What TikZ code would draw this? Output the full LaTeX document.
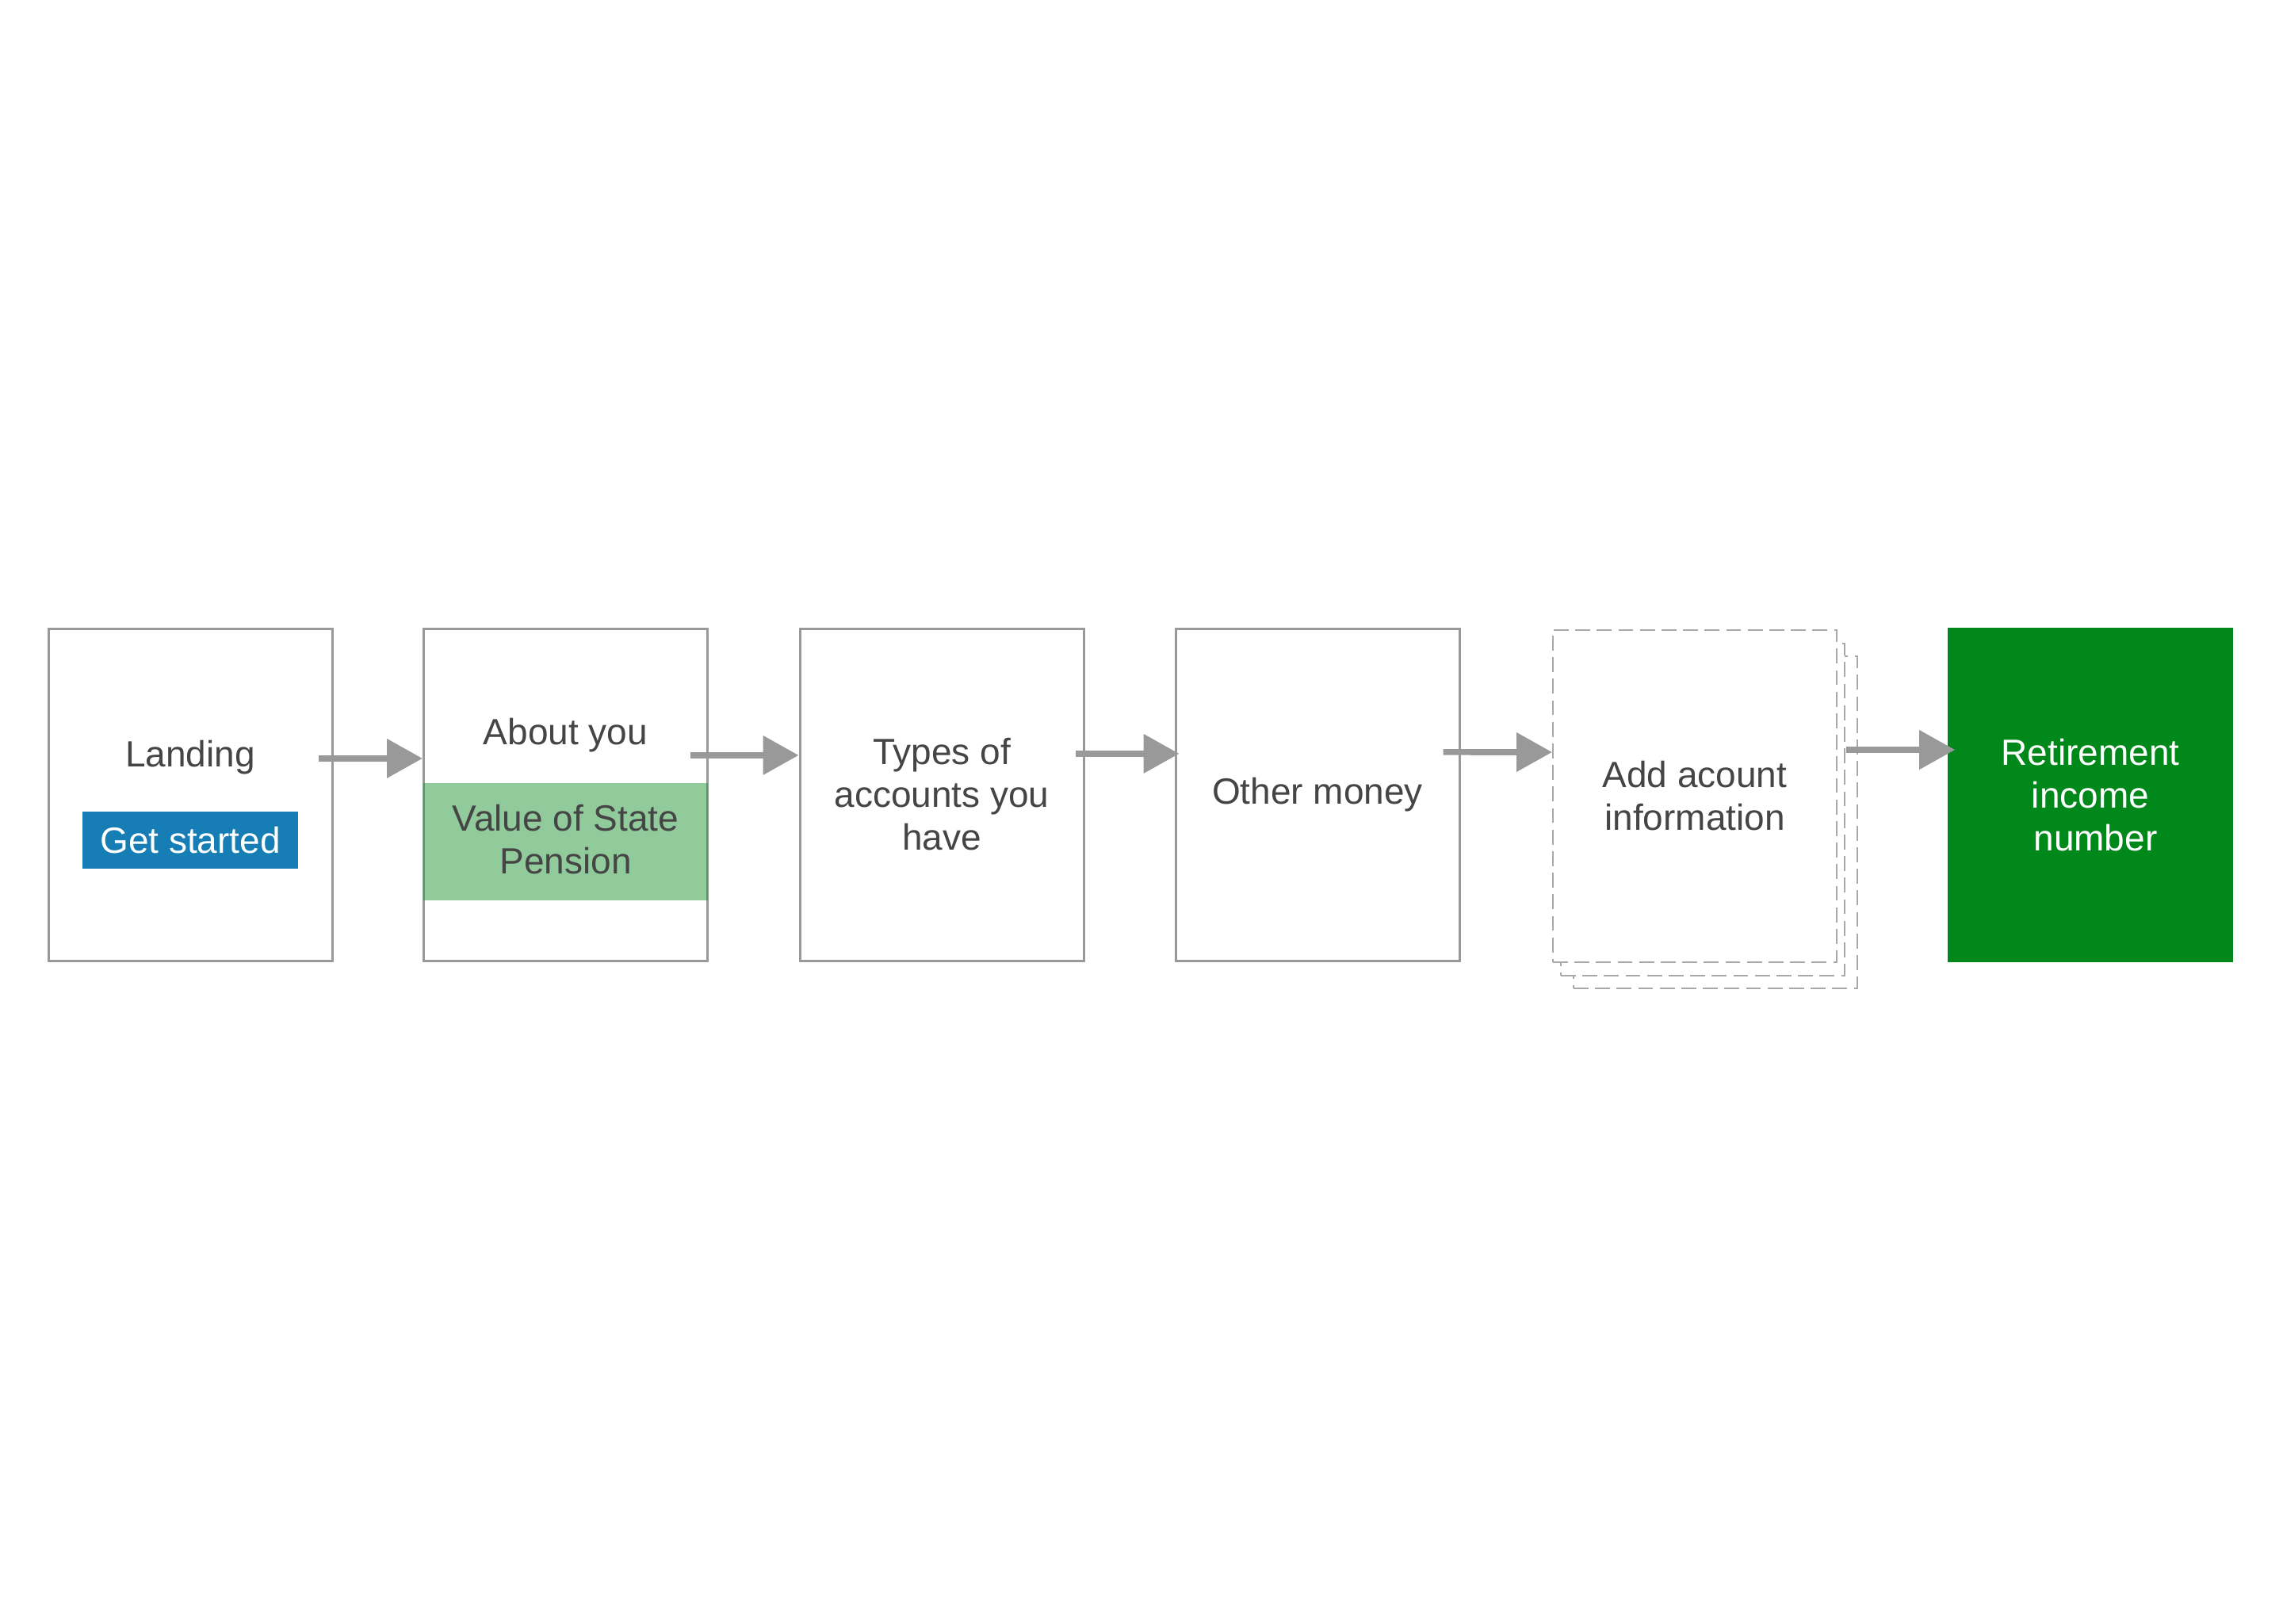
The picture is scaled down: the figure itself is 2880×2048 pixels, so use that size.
\documentclass[tikz,border=0pt]{standalone}
\usepackage{fontspec}
\setmainfont{Liberation Sans}
\usetikzlibrary{arrows.meta}

\definecolor{linegray}{HTML}{999999}
\definecolor{dashgray}{HTML}{A8A8A8}
\definecolor{textgray}{HTML}{454545}
\definecolor{btnblue}{HTML}{167DB5}
\definecolor{bandgreen}{HTML}{17902B}
\definecolor{retgreen}{HTML}{00881A}

\tikzset{
  txt/.style={font=\fontsize{11.5}{13.5}\selectfont, text=textgray, align=center, inner sep=0pt},
  page/.style={txt, draw=linegray, line width=0.75pt, fill=white,
    minimum width=89.5pt, minimum height=104.75pt},
  stackpage/.style={page, draw=dashgray, line width=0.5pt, dash pattern=on 4.7pt off 2.1pt},
  button/.style={txt, text=white, fill=btnblue, minimum width=68pt, minimum height=18pt},
  band/.style={txt, fill=bandgreen, fill opacity=0.47, text opacity=1,
    minimum width=89.75pt, minimum height=37pt},
  result/.style={txt, text=white, fill=retgreen, minimum width=90pt, minimum height=105.5pt},
  flow/.style={draw=linegray, line width=1.9pt, -{Triangle[length=11.25pt,width=12pt]}}
}

\begin{document}
\begin{tikzpicture}[x=0.25pt,y=-0.25pt]

  % frame
  \useasboundingbox (0,0) rectangle (2880,2048);
  \coordinate (P1) at (240,1002.5);
  \coordinate (P2) at (713.5,1002.5);
  \coordinate (P3) at (1188,1002.5);
  \coordinate (P4) at (1662,1002.5);
  \coordinate (P5) at (2138,1004);
  \coordinate (P6) at (2637,1003);

  % pages
  \node[page] (land) at (P1) {};
  \node[txt] (landtxt) at (240,956) {Landing};
  \node[button] (start) at (240,1060) {Get started};

  \node[page] (about) at (P2) {};
  \node[txt] (abouttxt) at (713.5,928) {About you};
  \node[band] (pension) at (713.5,1062) {};
  \node[txt] (pensiontxt) at (713.5,1059) {Value of State\\Pension};

  \node[page] (types) at (P3) {Types of\\accounts you\\have};
  \node[page] (other) at (P4) {Other money};

  \node[stackpage] (addC) at ([shift={(6.5pt,-8.25pt)}]P5) {};
  \node[stackpage] (addB) at ([shift={(2.5pt,-4.25pt)}]P5) {};
  \node[stackpage] (add) at (P5) {Add acount\\information};

  \node[result] (ret) at (P6) {Retirement\\income\\\mbox{} number};

  % arrows
  \draw[flow] ([shift={(-4.75pt,11.4pt)}]land.east) -- ([yshift=11.4pt]about.west);
  \draw[flow] ([shift={(-5.75pt,12.4pt)}]about.east) -- ([yshift=12.4pt]types.west);
  \draw[flow] ([shift={(-3pt,12.9pt)}]types.east) -- ([shift={(1.5pt,12.9pt)}]other.west);
  \draw[flow] ([shift={(-5.5pt,13.4pt)}]other.east) -- ([yshift=13.75pt]add.west);
  \draw[flow] ([shift={(2.75pt,14.5pt)}]add.east) -- ([shift={(2.5pt,14.25pt)}]ret.west);

\end{tikzpicture}
\end{document}
